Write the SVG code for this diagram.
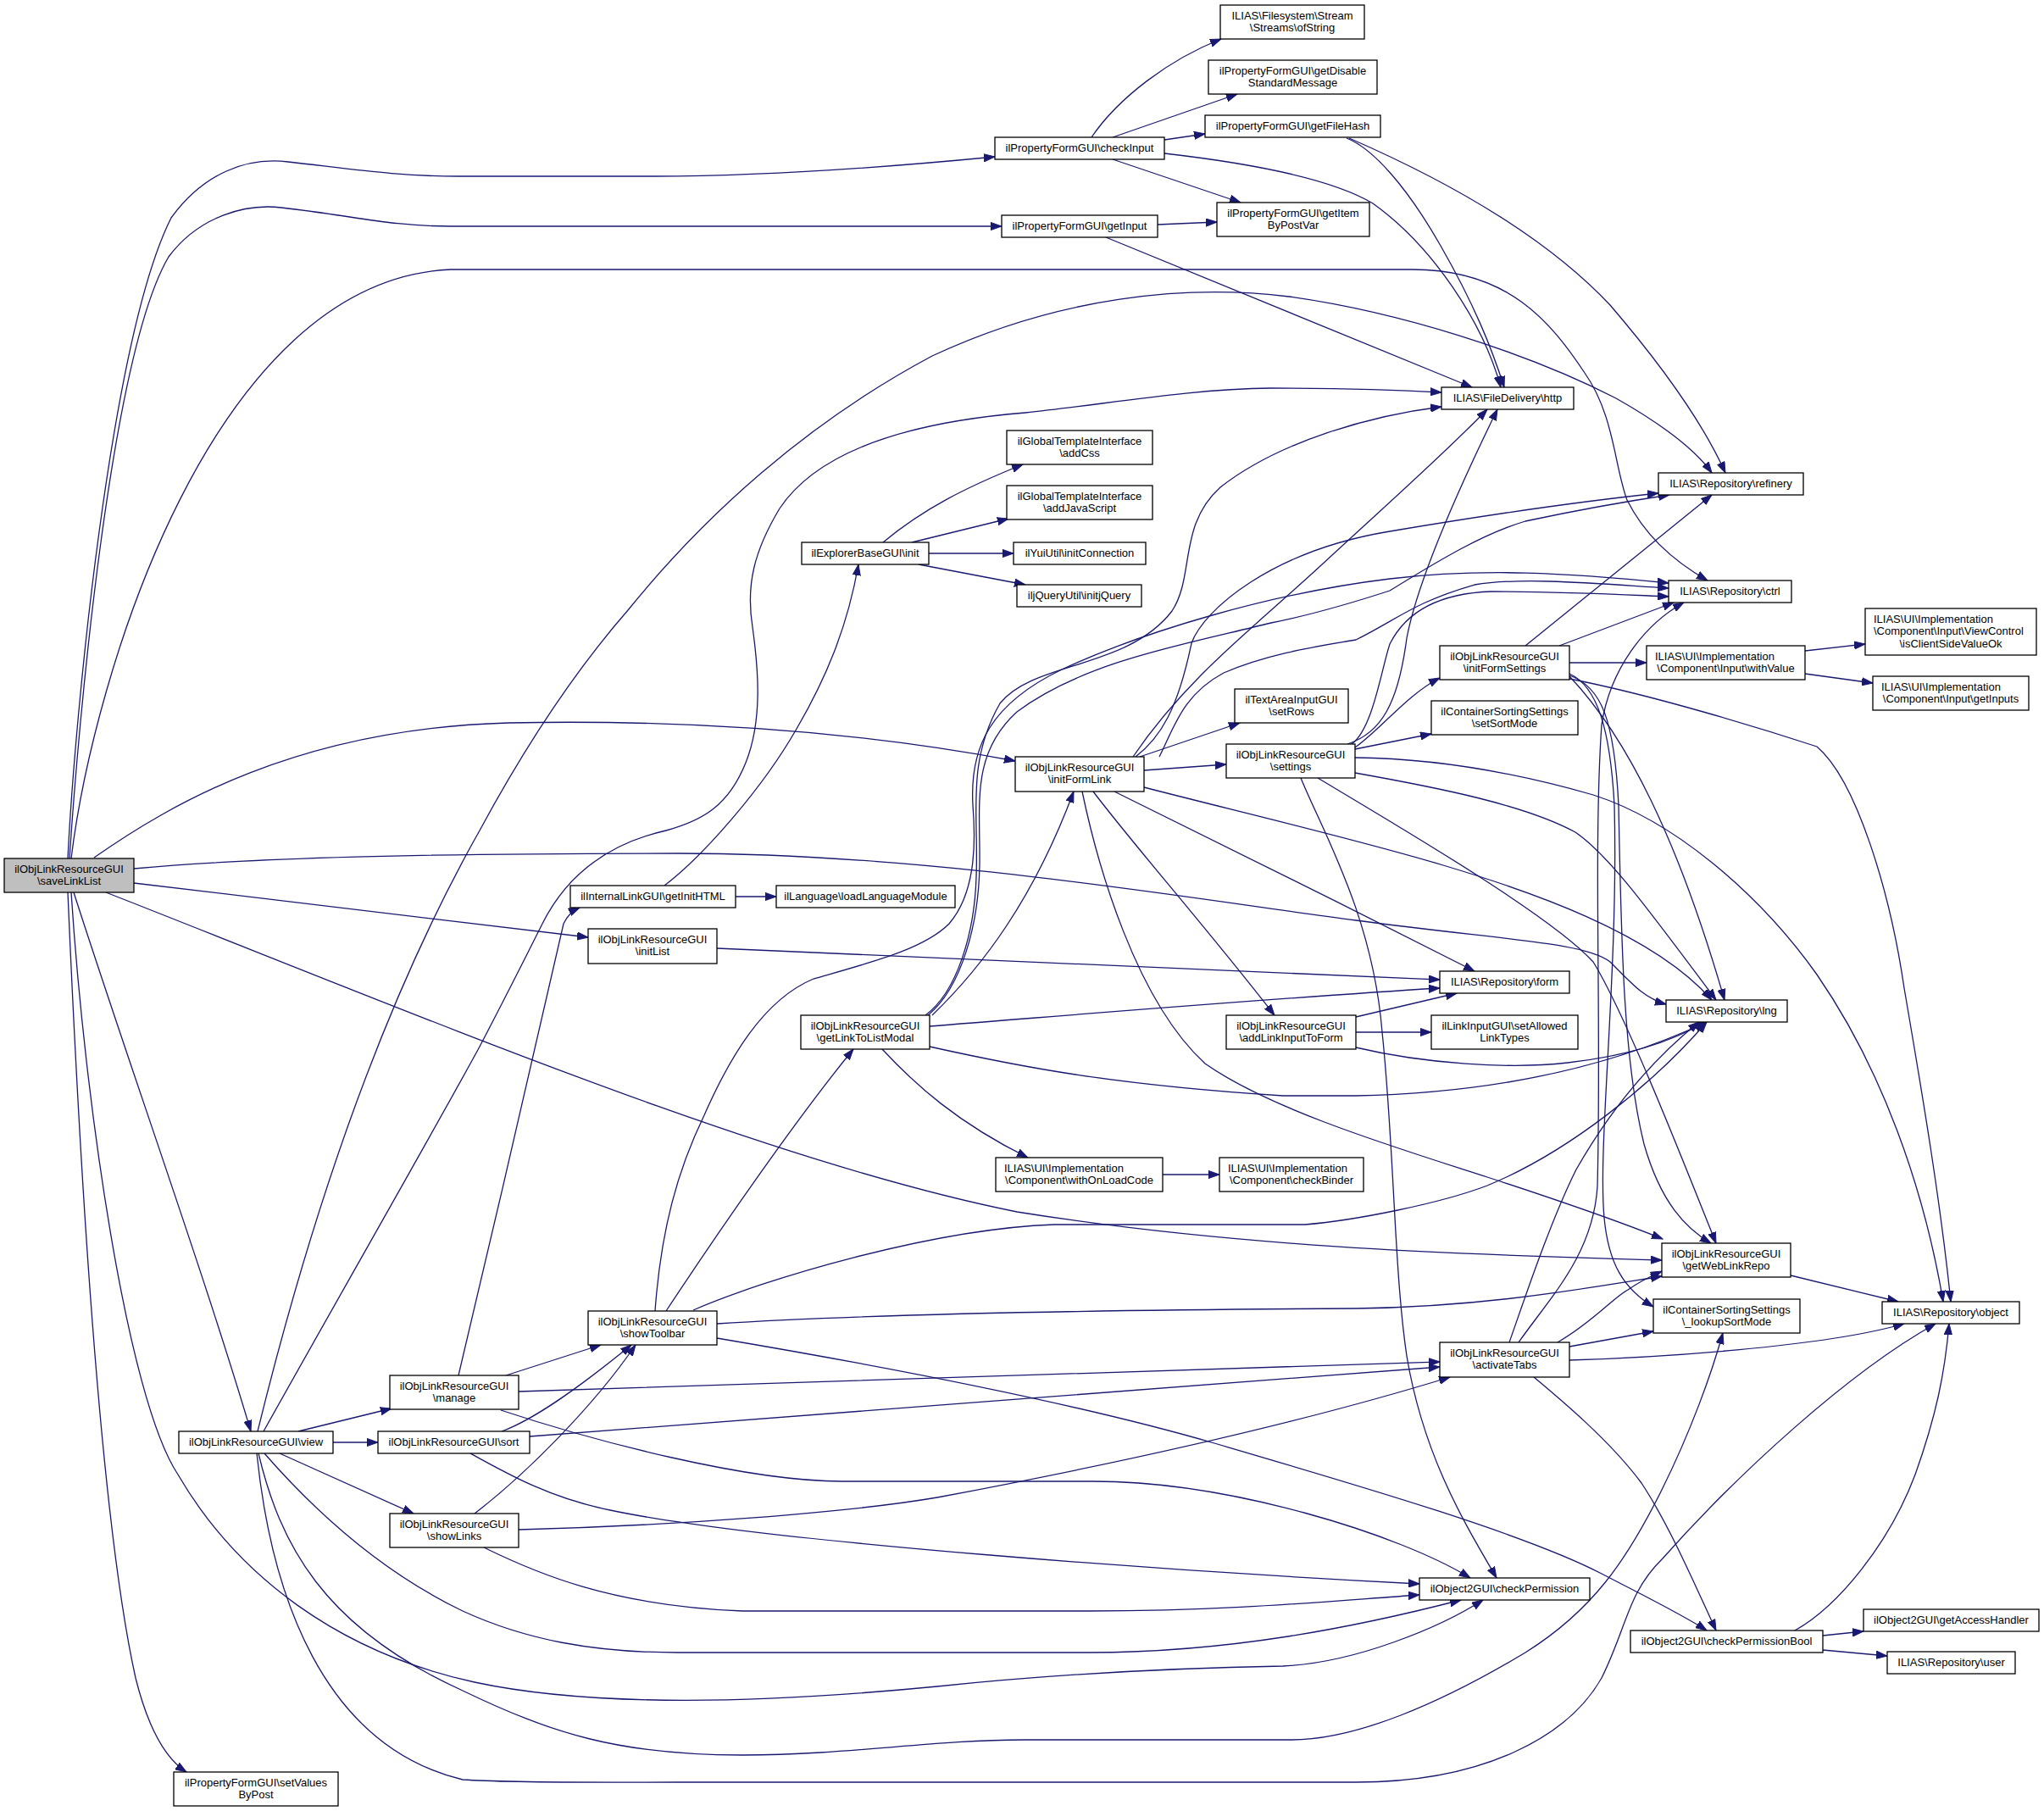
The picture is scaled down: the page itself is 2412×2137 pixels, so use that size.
<svg xmlns="http://www.w3.org/2000/svg" width="2412" height="2137" viewBox="0 0 2412 2137">
<style>
.n rect{fill:#fff;stroke:#000;stroke-width:1.3}
.n.g rect{fill:#bfbfbf}
.n text{font-family:"Liberation Sans",Arial,Helvetica,sans-serif;font-size:13px;fill:#000;text-anchor:middle}
.n text.l{text-anchor:start}
#edges path{fill:none;stroke:#191970;stroke-width:1.3;marker-end:url(#a)}
</style>
<defs>
<marker id="a" markerUnits="userSpaceOnUse" markerWidth="14" markerHeight="10" refX="13" refY="5" orient="auto" viewBox="0 0 14 10">
<path d="M0,0.4 L13,5 L0,9.6 z" fill="#191970" stroke="#191970" stroke-width="1"/>
</marker>
</defs>
<rect width="2412" height="2137" fill="#fff"/>
<g id="edges">
<path d="M80,1013 C88,850 130,400 202,257 C240,205 290,185 340,191 C420,200 470,208 540,208 L772,208 C900,208 1050,197 1174,185"/>
<path d="M82,1013 C92,860 130,420 199,303 C235,255 290,240 332,245 C420,255 460,267 532,267 L1182,267"/>
<path d="M84,1013 C110,800 250,330 532,318 L1667,318 C1780,318 1830,380 1870,440 C1905,490 1905,550 1920,590 C1945,640 1985,668 2015,685"/>
<path d="M111,1012 C200,950 350,860 600,853 C850,848 1050,870 1198,898"/>
<path d="M158,1042 L694,1106"/>
<path d="M158,1025 C300,1012 500,1007 800,1007 C1100,1007 1400,1060 1600,1086 C1780,1110 1870,1112 1900,1135 C1925,1160 1940,1178 1966,1185"/>
<path d="M125,1053 C500,1200 900,1370 1200,1430 C1450,1470 1700,1480 1961,1487"/>
<path d="M87,1053 C150,1250 240,1500 296,1689"/>
<path d="M84,1053 C100,1300 150,1650 210,1740 C280,1860 400,1950 560,1985 C700,2015 900,2010 1106,1990 C1250,1975 1400,1968 1514,1966 C1600,1962 1700,1920 1750,1888"/>
<path d="M80,1053 C95,1400 120,1800 160,1980 C175,2040 195,2075 220,2091"/>
<path d="M352,1689 L462,1662"/>
<path d="M393,1702 L446,1702"/>
<path d="M330,1715 L488,1786"/>
<path d="M311,1689 C400,1530 520,1320 566,1235 C600,1170 620,1130 640,1090 C670,1030 720,995 786,980 C830,968 860,950 880,900 C900,850 895,790 888,740 C880,690 890,650 920,600 C960,540 1050,500 1210,487 C1300,478 1400,459 1500,458 C1580,458 1650,460 1701,463"/>
<path d="M304,1689 C380,1380 470,1150 566,980 C620,880 680,790 741,720 C830,610 950,500 1100,420 C1250,350 1400,335 1521,350 C1650,368 1800,415 1907,470 C1960,500 2000,530 2020,558"/>
<path d="M312,1715 C360,1770 440,1850 546,1901 C620,1935 700,1950 800,1950 L1285,1950 C1450,1950 1600,1920 1724,1888"/>
<path d="M305,1715 C330,1820 380,1920 546,1995 C650,2045 730,2071 876,2071 C1000,2071 1100,2053 1208,2053 L1524,2053 C1600,2053 1700,2010 1800,1950 C1880,1900 1920,1840 1960,1760 C1995,1690 2020,1620 2033,1573"/>
<path d="M303,1715 C320,1880 380,2060 546,2100 C600,2104 700,2103 800,2103 L1600,2103 C1750,2103 1850,2050 1890,1980 C1920,1920 1920,1880 1962,1839 C2050,1740 2180,1620 2284,1562"/>
<path d="M541,1623 C580,1460 640,1200 665,1090 C670,1080 675,1075 684,1071"/>
<path d="M597,1623 L709,1587"/>
<path d="M612,1642 C900,1634 1300,1618 1699,1607"/>
<path d="M591,1664 C700,1700 880,1748 994,1748 L1290,1748 C1450,1748 1650,1810 1735,1862"/>
<path d="M592,1689 C630,1675 680,1640 745,1587"/>
<path d="M625,1695 C900,1675 1400,1635 1699,1613"/>
<path d="M555,1715 C600,1740 650,1768 720,1782 C900,1820 1400,1855 1675,1869"/>
<path d="M560,1786 C620,1740 700,1660 750,1587"/>
<path d="M612,1805 C800,1800 1000,1785 1106,1767 C1250,1740 1500,1690 1711,1625"/>
<path d="M571,1826 C630,1855 720,1895 876,1901 L1285,1901 C1450,1901 1560,1890 1675,1882"/>
<path d="M786,1547 C850,1450 940,1320 1007,1238"/>
<path d="M773,1547 C780,1450 800,1380 831,1316 C860,1250 900,1180 960,1155 C1030,1135 1090,1120 1120,1090 C1150,1055 1152,1000 1148,950 C1144,880 1170,830 1253,790 C1350,745 1500,700 1640,683 C1750,670 1850,676 1969,688"/>
<path d="M818,1546 C900,1510 1100,1450 1244,1445 L1540,1445 C1600,1440 1700,1420 1755,1399 C1850,1360 1950,1280 2014,1206"/>
<path d="M846,1562 C1000,1552 1244,1546 1600,1544 C1750,1542 1860,1522 1961,1506"/>
<path d="M846,1579 C1000,1605 1250,1650 1433,1703 C1600,1752 1800,1810 1890,1857 C1940,1883 1985,1905 2014,1924"/>
<path d="M1100,1198 C1160,1140 1220,1060 1267,934"/>
<path d="M1097,1211 C1300,1195 1500,1178 1699,1166"/>
<path d="M1097,1235 C1200,1258 1310,1280 1514,1293 L1600,1293 C1750,1290 1890,1264 2014,1206"/>
<path d="M1041,1238 C1080,1280 1130,1325 1213,1366"/>
<path d="M1092,1198 C1130,1170 1150,1100 1152,1035 C1155,960 1140,900 1180,830 C1220,780 1330,790 1383,721 C1410,680 1390,620 1440,575 C1510,520 1620,490 1701,480"/>
<path d="M1095,1198 C1135,1165 1155,1090 1156,1020 C1157,950 1145,890 1200,840 C1280,780 1400,760 1500,735 C1550,725 1600,710 1640,697 C1700,660 1750,630 1800,615 C1880,598 1930,590 1970,584"/>
<path d="M1337,893 C1400,800 1480,740 1559,667 C1620,610 1700,540 1755,483"/>
<path d="M1340,893 C1370,870 1390,836 1406,759 C1420,720 1500,650 1640,627 C1800,600 1900,588 1957,582"/>
<path d="M1368,893 C1385,860 1395,820 1444,794 C1500,770 1560,762 1600,755 C1650,730 1670,710 1740,690 C1800,680 1900,690 1969,694"/>
<path d="M1345,893 L1463,853"/>
<path d="M1350,909 L1447,902"/>
<path d="M1315,934 C1450,1000 1600,1075 1740,1146"/>
<path d="M1350,929 C1450,955 1600,990 1703,1021 C1800,1050 1950,1100 2020,1180"/>
<path d="M1290,934 C1340,1000 1420,1090 1504,1198"/>
<path d="M1277,934 C1295,1020 1340,1180 1422,1255 C1500,1310 1650,1355 1755,1389 C1850,1420 1920,1445 1962,1462"/>
<path d="M1590,878 C1630,865 1650,830 1660,753 C1670,700 1700,620 1767,483"/>
<path d="M1595,878 C1620,860 1630,790 1640,760 C1660,720 1700,700 1760,698 C1850,698 1920,702 1969,704"/>
<path d="M1599,882 C1630,860 1660,820 1699,800"/>
<path d="M1599,884 L1689,866"/>
<path d="M1599,912 C1700,930 1800,950 1859,982 C1900,1010 1950,1080 2025,1180"/>
<path d="M1555,918 C1650,975 1830,1080 1880,1135 C1920,1200 1990,1380 2025,1467"/>
<path d="M1599,894 C1700,895 1800,915 1880,938 C1980,970 2080,1060 2144,1150 C2220,1260 2270,1400 2293,1536"/>
<path d="M1535,918 C1560,980 1620,1080 1631,1218 C1645,1350 1645,1500 1660,1600 C1680,1720 1730,1800 1766,1862"/>
<path d="M1800,762 L2020,584"/>
<path d="M1840,762 L1975,711"/>
<path d="M1852,782 L1943,782"/>
<path d="M1852,798 C1920,870 1980,990 2035,1180"/>
<path d="M1852,797 C1890,810 1905,850 1910,950 C1913,1100 1915,1250 1940,1350 C1960,1420 1990,1450 2019,1467"/>
<path d="M1852,795 C1885,810 1900,860 1905,950 C1910,1150 1885,1350 1893,1437 C1898,1490 1915,1520 1951,1542"/>
<path d="M1852,801 C1950,820 2080,860 2144,881 C2190,920 2230,1050 2247,1166 C2270,1300 2290,1420 2302,1536"/>
<path d="M2130,768 L2201,760"/>
<path d="M2130,795 L2210,806"/>
<path d="M1600,1200 L1719,1172"/>
<path d="M1600,1218 L1689,1218"/>
<path d="M1600,1236 C1680,1255 1781,1262 1850,1254 C1930,1245 1980,1225 2012,1206"/>
<path d="M1792,1584 C1830,1530 1880,1480 1885,1400 C1890,1200 1880,1000 1890,855 C1900,790 1940,737 1987,711"/>
<path d="M1781,1584 C1800,1530 1830,1440 1860,1380 C1900,1310 1950,1250 2005,1206"/>
<path d="M1838,1584 C1880,1560 1905,1530 1921,1522 C1935,1512 1950,1505 1961,1500"/>
<path d="M1852,1589 L1951,1571"/>
<path d="M1852,1605 C1950,1602 2150,1590 2247,1562"/>
<path d="M1810,1625 C1840,1650 1900,1700 1937,1750 C1970,1800 2000,1870 2025,1924"/>
<path d="M2113,1505 L2240,1536"/>
<path d="M2118,1924 C2170,1895 2230,1820 2260,1740 C2285,1670 2295,1620 2300,1562"/>
<path d="M2151,1930 L2199,1925"/>
<path d="M2151,1947 L2227,1954"/>
<path d="M1288,162 C1320,115 1380,70 1441,46"/>
<path d="M1313,162 L1460,111"/>
<path d="M1374,165 L1422,158"/>
<path d="M1313,188 L1464,239"/>
<path d="M1374,181 C1470,192 1570,210 1620,240 C1690,290 1750,380 1771,457"/>
<path d="M1589,163 C1620,175 1660,220 1700,290 C1740,360 1760,410 1775,457"/>
<path d="M1592,163 C1700,210 1820,275 1900,360 C1960,430 2010,500 2036,558"/>
<path d="M1366,265 L1436,262"/>
<path d="M1305,280 L1737,457"/>
<path d="M1042,640 C1090,600 1140,575 1207,548"/>
<path d="M1076,640 L1190,612"/>
<path d="M1096,653 L1196,653"/>
<path d="M1084,666 L1210,690"/>
<path d="M784,1045 C830,1010 900,930 940,860 C975,800 1000,740 1013,666"/>
<path d="M868,1058 L916,1058"/>
<path d="M846,1119 C1100,1130 1400,1145 1699,1156"/>
<path d="M1372,1386 L1439,1386"/>
</g>
<g id="saveLinkList" class="n g"><rect x="5" y="1013" width="153" height="40"/><text x="81.5" y="1029.5">ilObjLinkResourceGUI</text><text x="81.5" y="1044">\saveLinkList</text></g>
<g id="checkInput" class="n"><rect x="1174" y="162" width="200" height="26"/><text x="1274" y="179">ilPropertyFormGUI\checkInput</text></g>
<g id="ofString" class="n"><rect x="1440" y="6" width="170" height="40"/><text x="1525" y="22.5">ILIAS\Filesystem\Stream</text><text x="1525" y="37">\Streams\ofString</text></g>
<g id="getDisableStandardMessage" class="n"><rect x="1426" y="71" width="199" height="40"/><text x="1525.5" y="87.5">ilPropertyFormGUI\getDisable</text><text x="1525.5" y="102">StandardMessage</text></g>
<g id="getFileHash" class="n"><rect x="1422" y="136" width="207" height="26"/><text x="1525.5" y="153">ilPropertyFormGUI\getFileHash</text></g>
<g id="getItemByPostVar" class="n"><rect x="1436" y="239" width="180" height="40"/><text x="1526" y="255.5">ilPropertyFormGUI\getItem</text><text x="1526" y="270">ByPostVar</text></g>
<g id="getInput" class="n"><rect x="1182" y="254" width="184" height="26"/><text x="1274" y="271">ilPropertyFormGUI\getInput</text></g>
<g id="http" class="n"><rect x="1701" y="457" width="156" height="26"/><text x="1779" y="474">ILIAS\FileDelivery\http</text></g>
<g id="refinery" class="n"><rect x="1957" y="558" width="171" height="26"/><text x="2042.5" y="575">ILIAS\Repository\refinery</text></g>
<g id="ctrl" class="n"><rect x="1969" y="685" width="145" height="26"/><text x="2041.5" y="702">ILIAS\Repository\ctrl</text></g>
<g id="addCss" class="n"><rect x="1188" y="508" width="172" height="40"/><text x="1274" y="524.5">ilGlobalTemplateInterface</text><text x="1274" y="539">\addCss</text></g>
<g id="addJavaScript" class="n"><rect x="1188" y="573" width="172" height="40"/><text x="1274" y="589.5">ilGlobalTemplateInterface</text><text x="1274" y="604">\addJavaScript</text></g>
<g id="initConnection" class="n"><rect x="1196" y="640" width="156" height="26"/><text x="1274" y="657">ilYuiUtil\initConnection</text></g>
<g id="initjQuery" class="n"><rect x="1200" y="690" width="147" height="26"/><text x="1273.5" y="707">iljQueryUtil\initjQuery</text></g>
<g id="explorerInit" class="n"><rect x="946" y="640" width="150" height="26"/><text x="1021" y="657">ilExplorerBaseGUI\init</text></g>
<g id="isClientSideValueOk" class="n"><rect x="2201" y="718" width="202" height="55"/><text class="l" x="2211" y="734.5">ILIAS\UI\Implementation</text><text class="l" x="2211" y="749">\Component\Input\ViewControl</text><text x="2302" y="763.5">\isClientSideValueOk</text></g>
<g id="getInputs" class="n"><rect x="2210" y="798" width="184" height="40"/><text class="l" x="2220" y="814.5">ILIAS\UI\Implementation</text><text x="2302" y="829">\Component\Input\getInputs</text></g>
<g id="withValue" class="n"><rect x="1943" y="762" width="187" height="40"/><text class="l" x="1953" y="778.5">ILIAS\UI\Implementation</text><text x="2036.5" y="793">\Component\Input\withValue</text></g>
<g id="initFormSettings" class="n"><rect x="1699" y="762" width="153" height="40"/><text x="1775.5" y="778.5">ilObjLinkResourceGUI</text><text x="1775.5" y="793">\initFormSettings</text></g>
<g id="setSortMode" class="n"><rect x="1689" y="827" width="173" height="40"/><text x="1775.5" y="843.5">ilContainerSortingSettings</text><text x="1775.5" y="858">\setSortMode</text></g>
<g id="setRows" class="n"><rect x="1457" y="813" width="134" height="40"/><text x="1524" y="829.5">ilTextAreaInputGUI</text><text x="1524" y="844">\setRows</text></g>
<g id="settings" class="n"><rect x="1447" y="878" width="152" height="40"/><text x="1523" y="894.5">ilObjLinkResourceGUI</text><text x="1523" y="909">\settings</text></g>
<g id="initFormLink" class="n"><rect x="1198" y="893" width="152" height="41"/><text x="1274" y="909.5">ilObjLinkResourceGUI</text><text x="1274" y="924">\initFormLink</text></g>
<g id="getInitHTML" class="n"><rect x="673" y="1045" width="195" height="26"/><text x="770.5" y="1062">ilInternalLinkGUI\getInitHTML</text></g>
<g id="loadLanguageModule" class="n"><rect x="916" y="1045" width="211" height="26"/><text x="1021.5" y="1062">ilLanguage\loadLanguageModule</text></g>
<g id="initList" class="n"><rect x="694" y="1096" width="152" height="41"/><text x="770" y="1112.5">ilObjLinkResourceGUI</text><text x="770" y="1127">\initList</text></g>
<g id="form" class="n"><rect x="1699" y="1146" width="153" height="26"/><text x="1775.5" y="1163">ILIAS\Repository\form</text></g>
<g id="lng" class="n"><rect x="1966" y="1180" width="143" height="26"/><text x="2037.5" y="1197">ILIAS\Repository\lng</text></g>
<g id="getLinkToListModal" class="n"><rect x="945" y="1198" width="152" height="40"/><text x="1021" y="1214.5">ilObjLinkResourceGUI</text><text x="1021" y="1229">\getLinkToListModal</text></g>
<g id="addLinkInputToForm" class="n"><rect x="1447" y="1198" width="153" height="40"/><text x="1523.5" y="1214.5">ilObjLinkResourceGUI</text><text x="1523.5" y="1229">\addLinkInputToForm</text></g>
<g id="setAllowedLinkTypes" class="n"><rect x="1689" y="1198" width="173" height="40"/><text x="1775.5" y="1214.5">ilLinkInputGUI\setAllowed</text><text x="1775.5" y="1229">LinkTypes</text></g>
<g id="withOnLoadCode" class="n"><rect x="1175" y="1366" width="197" height="40"/><text class="l" x="1185" y="1382.5">ILIAS\UI\Implementation</text><text x="1273.5" y="1397">\Component\withOnLoadCode</text></g>
<g id="checkBinder" class="n"><rect x="1439" y="1366" width="170" height="40"/><text class="l" x="1449" y="1382.5">ILIAS\UI\Implementation</text><text x="1524" y="1397">\Component\checkBinder</text></g>
<g id="getWebLinkRepo" class="n"><rect x="1961" y="1467" width="152" height="40"/><text x="2037" y="1483.5">ilObjLinkResourceGUI</text><text x="2037" y="1498">\getWebLinkRepo</text></g>
<g id="object" class="n"><rect x="2221" y="1536" width="162" height="26"/><text x="2302" y="1553">ILIAS\Repository\object</text></g>
<g id="lookupSortMode" class="n"><rect x="1951" y="1533" width="173" height="40"/><text x="2037.5" y="1549.5">ilContainerSortingSettings</text><text x="2037.5" y="1564">\_lookupSortMode</text></g>
<g id="activateTabs" class="n"><rect x="1699" y="1584" width="153" height="41"/><text x="1775.5" y="1600.5">ilObjLinkResourceGUI</text><text x="1775.5" y="1615">\activateTabs</text></g>
<g id="showToolbar" class="n"><rect x="694" y="1547" width="152" height="40"/><text x="770" y="1563.5">ilObjLinkResourceGUI</text><text x="770" y="1578">\showToolbar</text></g>
<g id="manage" class="n"><rect x="460" y="1623" width="152" height="40"/><text x="536" y="1639.5">ilObjLinkResourceGUI</text><text x="536" y="1654">\manage</text></g>
<g id="view" class="n"><rect x="211" y="1689" width="182" height="26"/><text x="302" y="1706">ilObjLinkResourceGUI\view</text></g>
<g id="sort" class="n"><rect x="446" y="1689" width="179" height="26"/><text x="535.5" y="1706">ilObjLinkResourceGUI\sort</text></g>
<g id="showLinks" class="n"><rect x="460" y="1786" width="152" height="40"/><text x="536" y="1802.5">ilObjLinkResourceGUI</text><text x="536" y="1817">\showLinks</text></g>
<g id="checkPermission" class="n"><rect x="1675" y="1862" width="201" height="26"/><text x="1775.5" y="1879">ilObject2GUI\checkPermission</text></g>
<g id="checkPermissionBool" class="n"><rect x="1924" y="1924" width="227" height="26"/><text x="2037.5" y="1941">ilObject2GUI\checkPermissionBool</text></g>
<g id="getAccessHandler" class="n"><rect x="2199" y="1899" width="207" height="26"/><text x="2302.5" y="1916">ilObject2GUI\getAccessHandler</text></g>
<g id="user" class="n"><rect x="2227" y="1949" width="151" height="26"/><text x="2302.5" y="1966">ILIAS\Repository\user</text></g>
<g id="setValuesByPost" class="n"><rect x="205" y="2091" width="194" height="40"/><text x="302" y="2107.5">ilPropertyFormGUI\setValues</text><text x="302" y="2122">ByPost</text></g>
</svg>
